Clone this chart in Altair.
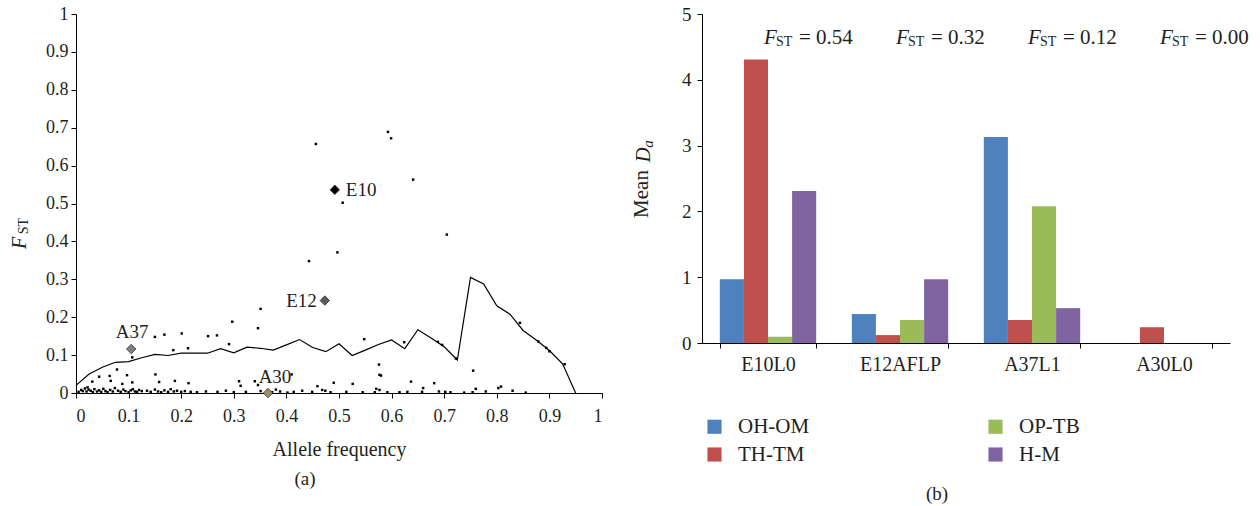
import altair as alt
import pandas as pd

FONT = "Liberation Serif"
INK = "#231f20"

# ---------------- Panel (a) data ----------------
line_af = [0, 0.025, 0.05, 0.075, 0.1, 0.125, 0.15, 0.175, 0.2, 0.225, 0.25, 0.275, 0.3,
           0.325, 0.35, 0.375, 0.4, 0.425, 0.45, 0.475, 0.5, 0.525, 0.55, 0.575, 0.6,
           0.625, 0.65, 0.675, 0.7, 0.725, 0.75, 0.775, 0.8, 0.825, 0.85, 0.875, 0.9,
           0.925, 0.95]
line_fst = [0.020, 0.050, 0.068, 0.081, 0.083, 0.093, 0.102, 0.099, 0.105, 0.105, 0.105,
            0.117, 0.106, 0.121, 0.118, 0.113, 0.127, 0.141, 0.120, 0.109, 0.130, 0.099,
            0.113, 0.128, 0.140, 0.117, 0.167, 0.145, 0.122, 0.087, 0.305, 0.288, 0.230,
            0.208, 0.165, 0.140, 0.112, 0.077, 0.0]

pts_af = [0.456, 0.593, 0.599, 0.641, 0.507, 0.705, 0.497, 0.443, 0.351, 0.346, 0.297,
          0.291, 0.268, 0.251, 0.201, 0.213, 0.185, 0.168, 0.150, 0.107, 0.548, 0.576,
          0.577, 0.580, 0.624, 0.688, 0.696, 0.722, 0.755, 0.844, 0.879, 0.894, 0.900,
          0.929,
          0.022, 0.031, 0.044, 0.064, 0.066, 0.078, 0.088, 0.097, 0.107, 0.151, 0.158,
          0.188, 0.214, 0.310, 0.313, 0.340, 0.346, 0.380, 0.388, 0.410, 0.459, 0.468,
          0.474, 0.490, 0.526, 0.571, 0.577, 0.637, 0.660, 0.681, 0.690, 0.760, 0.779,
          0.803, 0.808, 0.830,
          0.218, 0.230, 0.247, 0.269, 0.285, 0.300, 0.323, 0.351, 0.373, 0.402, 0.414,
          0.430, 0.449, 0.484, 0.514, 0.545, 0.568, 0.592, 0.615, 0.630, 0.658, 0.702,
          0.712, 0.738, 0.754, 0.855,
          0.005, 0.010, 0.013, 0.017, 0.020, 0.024, 0.028, 0.032, 0.035, 0.040, 0.044,
          0.048, 0.052, 0.056, 0.060, 0.065, 0.070, 0.074, 0.080, 0.085, 0.090, 0.094,
          0.100, 0.104, 0.108, 0.112, 0.116, 0.120, 0.125, 0.135, 0.142, 0.150, 0.156,
          0.162, 0.168, 0.175, 0.180, 0.186, 0.192, 0.200, 0.207]
pts_fst = [0.657, 0.689, 0.672, 0.563, 0.502, 0.418, 0.371, 0.348, 0.222, 0.171, 0.188,
           0.129, 0.152, 0.150, 0.157, 0.118, 0.113, 0.154, 0.148, 0.094, 0.142, 0.075,
           0.048, 0.046, 0.134, 0.135, 0.127, 0.091, 0.059, 0.185, 0.136, 0.119, 0.110,
           0.076,
           0.015, 0.030, 0.043, 0.045, 0.032, 0.062, 0.024, 0.047, 0.028, 0.049, 0.029,
           0.032, 0.026, 0.031, 0.019, 0.031, 0.021, 0.009, 0.004, 0.049, 0.018, 0.008,
           0.006, 0.027, 0.024, 0.011, 0.008, 0.030, 0.013, 0.026, 0.004, 0.011, 0.004,
           0.013, 0.017, 0.006,
           0.003, 0.002, 0.004, 0.003, 0.006, 0.002, 0.003, 0.005, 0.002, 0.001, 0.003,
           0.006, 0.003, 0.002, 0.003, 0.002, 0.002, 0.002, 0.002, 0.003, 0.003, 0.003,
           0.002, 0.001, 0.002, 0.001,
           0.003, 0.008, 0.005, 0.012, 0.004, 0.009, 0.006, 0.002, 0.010, 0.004, 0.007,
           0.003, 0.011, 0.005, 0.002, 0.008, 0.004, 0.013, 0.006, 0.003, 0.009, 0.005,
           0.002, 0.007, 0.010, 0.004, 0.003, 0.008, 0.005, 0.006, 0.003, 0.009, 0.004,
           0.002, 0.007, 0.003, 0.010, 0.004, 0.006, 0.003, 0.005]

hl_names = ["E10", "E12", "A37", "A30"]
hl_af = [0.492, 0.473, 0.105, 0.365]
hl_fst = [0.536, 0.244, 0.116, 0.0]
hl_fill = ["#000000", "#5a5a5a", "#808080", "#9c8f5c"]

x_ticks_a = [0, 0.1, 0.2, 0.3, 0.4, 0.5, 0.6, 0.7, 0.8, 0.9, 1]
y_ticks_a = [0, 0.1, 0.2, 0.3, 0.4, 0.5, 0.6, 0.7, 0.8, 0.9, 1]

# ---------------- Panel (b) data ----------------
loci = ["E10L0", "E12AFLP", "A37L1", "A30L0"]
groups = ["OH-OM", "TH-TM", "OP-TB", "H-M"]
oh_om = [0.97, 0.44, 3.13, 0.0]
th_tm = [4.31, 0.12, 0.35, 0.24]
op_tb = [0.095, 0.35, 2.08, 0.0]
h_m = [2.31, 0.97, 0.53, 0.0]
fst_values = ["0.54", "0.32", "0.12", "0.00"]
group_colors = ["#4f81bd", "#c0504d", "#9bbb59", "#8064a2"]

# ---------------- build tables ----------------
line_df = pd.DataFrame({"af": line_af, "fst": line_fst})
pts_df = pd.DataFrame({"af": pts_af, "fst": pts_fst})
hl_df = pd.DataFrame({"name": hl_names, "af": hl_af, "fst": hl_fst, "fill": hl_fill})

rows = []
for grp, vals in zip(groups, [oh_om, th_tm, op_tb, h_m]):
    for loc, v in zip(loci, vals):
        rows.append({"locus": loc, "group": grp, "value": v})
bar_df = pd.DataFrame(rows)
fst_df = pd.DataFrame({"locus": loci, "fst": fst_values})
one = pd.DataFrame({"k": [0]})

W_A, H_A = 526, 379
W_B, H_B = 528, 329

AX = dict(labelFont=FONT, labelColor=INK, titleFont=FONT,
          titleFontWeight="normal", titleColor=INK, domainColor="black",
          tickColor="black", tickSize=5, grid=False)


def free_text(txt, x, y, size, style="normal", angle=0, align="center"):
    return alt.Chart(one).mark_text(
        text=txt, font=FONT, fontSize=size, fontStyle=style, angle=angle,
        align=align, baseline="middle", color=INK
    ).encode(x=alt.value(x), y=alt.value(y))


# ---------------- Panel (a) ----------------
xa = alt.X("af:Q", scale=alt.Scale(domain=[0, 1], nice=False),
           axis=alt.Axis(values=x_ticks_a, format="~g", title="Allele frequency",
                         labelFontSize=18, titleFontSize=20, titlePadding=14,
                         labelPadding=9, **AX))
ya = alt.Y("fst:Q", scale=alt.Scale(domain=[0, 1], nice=False),
           axis=alt.Axis(values=y_ticks_a, format="~g", title=None, labelFontSize=18,
                         labelPadding=3, **AX))

dots = alt.Chart(pts_df).mark_square(size=6, color="black", opacity=1).encode(x=xa, y=ya)
curve = alt.Chart(line_df).mark_line(color="black", strokeWidth=1.2).encode(x=xa, y=ya)
diam = alt.Chart(hl_df).mark_point(shape="diamond", filled=True, size=90, stroke="#333333",
                                  strokeWidth=0.8, opacity=1).encode(
    x=xa, y=ya, fill=alt.Fill("fill:N", scale=None))


def hl_label(name, align, dx, dy):
    return alt.Chart(hl_df).transform_filter(alt.datum.name == name).mark_text(
        font=FONT, fontSize=19, align=align, baseline="middle", dx=dx, dy=dy, color=INK
    ).encode(x=xa, y=ya, text="name:N")


labels_a = (hl_label("E10", "left", 11, 0) + hl_label("E12", "right", -8, 0)
            + hl_label("A37", "center", 1, -17) + hl_label("A30", "center", 7, -16))

ytitle_a = free_text("F", -56, 229, 20, style="italic", angle=270) + \
    free_text("ST", -52, 212, 14, angle=270)
cap_a = free_text("(a)", 229, 465, 19)

panel_a = alt.layer(curve, dots, diam, labels_a, ytitle_a, cap_a).properties(
    width=W_A, height=H_A)

# ---------------- Panel (b) ----------------
xb = alt.X("locus:N", sort=loci,
           scale=alt.Scale(paddingInner=0.27, paddingOuter=0.135),
           axis=alt.Axis(title=None, labelAngle=0, tickBand="extent", labelPadding=6,
                         labelFontSize=20, **AX))
yb = alt.Y("value:Q", scale=alt.Scale(domain=[0, 5], nice=False),
           axis=alt.Axis(values=[0, 1, 2, 3, 4, 5], format="d", title=None,
                         labelFontSize=19, labelPadding=6, **AX))

bars = alt.Chart(bar_df).mark_bar().encode(
    x=xb, y=yb,
    xOffset=alt.XOffset("group:N", sort=groups,
                        scale=alt.Scale(paddingInner=0, paddingOuter=0)),
    color=alt.Color("group:N",
                    scale=alt.Scale(domain=groups, range=group_colors),
                    legend=alt.Legend(title=None, orient="none", legendX=628, legendY=402,
                                      columns=2, columnPadding=175, rowPadding=6,
                                      symbolType="square", symbolSize=200,
                                      symbolStrokeWidth=0, symbolOpacity=1,
                                      labelFont=FONT, labelFontSize=21, labelColor=INK,
                                      labelOffset=13)),
)

fst_x = alt.X("locus:N", sort=loci)
fst_F = alt.Chart(fst_df).mark_text(
    text="F", font=FONT, fontSize=21, fontStyle="italic", align="left",
    baseline="middle", dx=-4, color=INK).encode(x=fst_x, y=alt.datum(4.635))
fst_ST = alt.Chart(fst_df).mark_text(
    text="ST", font=FONT, fontSize=14, align="left", baseline="middle",
    dx=8, dy=4, color=INK).encode(x=fst_x, y=alt.datum(4.635))
fst_val = alt.Chart(fst_df).transform_calculate(lab="'= ' + datum.fst").mark_text(
    font=FONT, fontSize=21, align="left", baseline="middle", dx=31,
    color=INK).encode(x=fst_x, y=alt.datum(4.635), text="lab:N")

ytitle_b = free_text("Mean", -60, 180, 21, angle=270) + \
    free_text("D", -58, 141, 21, style="italic", angle=270) + \
    free_text("a", -54, 130, 15, style="italic", angle=270)
cap_b = free_text("(b)", 235, 480, 19)

panel_b = alt.layer(bars, fst_F, fst_ST, fst_val, ytitle_b, cap_b).properties(
    width=W_B, height=H_B)

chart = alt.hconcat(panel_a, panel_b, spacing=28).properties(
    padding={"left": 10, "top": 5, "right": 0, "bottom": 0}
).configure_view(stroke=None).configure_legend(
    labelFont=FONT, labelFontSize=21, labelColor=INK
)

chart.save("out.html", embed_options={"renderer": "svg", "actions": False})
